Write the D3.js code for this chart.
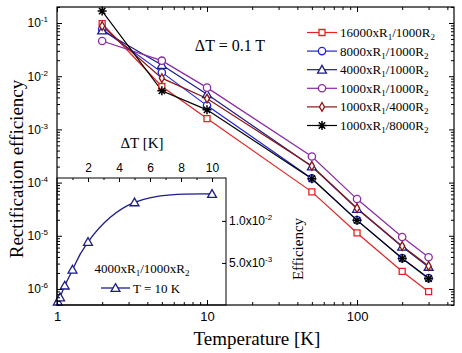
<!DOCTYPE html>
<html>
<head>
<meta charset="utf-8">
<script src="https://cdn.jsdelivr.net/npm/d3@7"></script>
<style>
  body { margin: 0; background: #fff; }
  svg { display: block; }
  .tick text { font-family: "Liberation Sans", Arial, sans-serif; fill: #000; }
  .serif { font-family: "Liberation Serif", "Times New Roman", serif; fill: #000; }
</style>
</head>
<body>
<div id="chart"></div>
<script>
// main plot data: temperature [K] vs rectification efficiency
const temps = [2, 5, 10, 50, 100, 200, 300];
const eff16000_1000 = [0.097, 0.0064, 0.0016, 6.7e-5, 1.13e-5, 2.14e-6, 8.9e-7];
const eff8000_1000  = [0.076, 0.0118, 0.0028, 1.2e-4, 1.97e-5, 3.8e-6, 1.6e-6];
const eff4000_1000  = [0.072, 0.0163, 0.0046, 2.0e-4, 3.2e-5, 6.2e-6, 2.6e-6];
const eff1000_1000  = [0.046, 0.0196, 0.0061, 3.1e-4, 4.9e-5, 9.5e-6, 3.95e-6];
const eff1000_4000  = [0.088, 0.0092, 0.0038, 2.05e-4, 3.3e-5, 6.4e-6, 2.7e-6];
const eff1000_8000  = [0.168, 0.0053, 0.00233, 1.18e-4, 1.95e-5, 3.73e-6, 1.57e-6];

// inset data: ΔT [K] vs efficiency at T = 10 K
const insetDT  = [0.05, 0.2, 0.5, 1, 2, 5, 10];
const insetEff = [0.0004, 0.0009, 0.0023, 0.0042, 0.0075, 0.0122, 0.0132];

const xTickValues = [1, 10, 100];
const yTickValues = [1e-1, 1e-2, 1e-3, 1e-4, 1e-5, 1e-6];
const insetXTicks = [2, 4, 6, 8, 10];
const insetYTicks = [5e-3, 1e-2];
const insetYLabels = [["5.0x10", "-3"], ["1.0x10", "-2"]];

const series = [
  {lo: "16000xR", mid: "/1000R", values: eff16000_1000, color: "#e02424", symbol: "square"},
  {lo: "8000xR",  mid: "/1000R", values: eff8000_1000,  color: "#2323d8", symbol: "circle"},
  {lo: "4000xR",  mid: "/1000R", values: eff4000_1000,  color: "#1c1c86", symbol: "triangle"},
  {lo: "1000xR",  mid: "/1000R", values: eff1000_1000,  color: "#8a2aa6", symbol: "circle"},
  {lo: "1000xR",  mid: "/4000R", values: eff1000_4000,  color: "#8a1616", symbol: "diamond"},
  {lo: "1000xR",  mid: "/8000R", values: eff1000_8000,  color: "#000000", symbol: "star"}
];

const W = 462, H = 353;
const svg = d3.select("#chart").append("svg").attr("width", W).attr("height", H);

// frame of the main plot
const L = 57, R = 454, T = 7, B = 305;

const x = d3.scaleLog().domain([1, 443]).range([L, R]);
const y = d3.scaleLog().domain([5e-7, 0.2]).range([B, T]);

// minor tick values for log axes
function minorTicks(scale) {
  let [a, b] = scale.domain();
  let out = [];
  for (let e = Math.floor(Math.log10(a)); e <= Math.ceil(Math.log10(b)); e++) {
    for (let k = 2; k <= 9; k++) {
      let v = k * Math.pow(10, e);
      if (v >= a && v <= b) out.push(v);
    }
  }
  return out;
}

function drawMarker(g, type, color, cx, cy) {
  if (type === "star") {
    let r = 4.5;
    let p = d3.path();
    for (let i = 0; i < 4; i++) {
      let ang = i * Math.PI / 4;
      p.moveTo(cx - r * Math.cos(ang), cy - r * Math.sin(ang));
      p.lineTo(cx + r * Math.cos(ang), cy + r * Math.sin(ang));
    }
    g.append("path").attr("d", p.toString()).attr("stroke", color).attr("stroke-width", 1.5).attr("fill", "none");
    return;
  }
  let sym = {square: d3.symbolSquare, circle: d3.symbolCircle, triangle: d3.symbolTriangle, diamond: d3.symbolDiamond}[type];
  let size = {square: 36, circle: 42, triangle: 34, diamond: 22}[type];
  let dy = type === "triangle" ? 0.8 : 0;
  g.append("path")
    .attr("d", d3.symbol(sym, size)())
    .attr("transform", `translate(${cx},${cy + dy})`)
    .attr("fill", "#fff")
    .attr("stroke", color)
    .attr("stroke-width", 1.3);
}

// data lines
const line = d3.line().x(d => x(d[0])).y(d => y(d[1]));
const dataG = svg.append("g");
series.forEach(s => {
  let pts = temps.map((t, i) => [t, s.values[i]]);
  dataG.append("path")
    .datum(pts)
    .attr("d", line)
    .attr("fill", "none")
    .attr("stroke", s.color)
    .attr("stroke-width", 1.2);
});
series.forEach(s => {
  temps.forEach((t, i) => drawMarker(dataG, s.symbol, s.color, x(t), y(s.values[i])));
});

// annotation
svg.append("text").attr("class", "serif")
  .attr("x", 230).attr("y", 51)
  .attr("text-anchor", "middle")
  .style("font-size", "16px")
  .text("ΔT = 0.1 T");

// legend
const leg = svg.append("g");
series.forEach((s, i) => {
  let ly = 32.5 + i * 18.6;
  leg.append("line").attr("x1", 307).attr("x2", 337).attr("y1", ly).attr("y2", ly)
    .attr("stroke", s.color).attr("stroke-width", 1.2);
  drawMarker(leg, s.symbol, s.color, 322, ly);
  let t = leg.append("text").attr("class", "serif").attr("x", 340).attr("y", ly + 4.5).style("font-size", "13px");
  t.append("tspan").text(s.lo);
  t.append("tspan").attr("dy", 3).style("font-size", "9px").text("1");
  t.append("tspan").attr("dy", -3).text(s.mid);
  t.append("tspan").attr("dy", 3).style("font-size", "9px").text("2");
});

// ---------- inset ----------
const iL = 57, iR = 226, iT = 178, iB = 305;
const ix = d3.scaleLinear().domain([0, 10.9]).range([iL, iR]);
const iy = d3.scaleLinear().domain([0, 0.0151]).range([iB, iT]);

svg.append("rect").attr("x", iL).attr("y", iT).attr("width", iR - iL).attr("height", iB - iT)
  .attr("fill", "#fff").attr("stroke", "#000").attr("stroke-width", 1);

const insetColor = "#1c1c86";
const ipts = insetDT.map((d, i) => [d, insetEff[i]]);
svg.append("path").datum(ipts)
  .attr("d", d3.line().x(d => ix(d[0])).y(d => iy(d[1])).curve(d3.curveNatural))
  .attr("fill", "none").attr("stroke", insetColor).attr("stroke-width", 1.3);
ipts.forEach(d => drawMarker(svg, "triangle", insetColor, ix(d[0]), iy(d[1])));

// inset top axis (ΔT)
svg.append("g").attr("transform", `translate(0,${iT})`)
  .call(d3.axisTop(ix).tickValues(insetXTicks).tickSize(-4).tickPadding(6).tickFormat(d3.format("d")))
  .call(g => g.select(".domain").remove())
  .call(g => g.selectAll("text").style("font-size", "12px"));
svg.append("g").attr("transform", `translate(0,${iT})`)
  .call(d3.axisTop(ix).tickValues([1, 3, 5, 7, 9]).tickSize(-2).tickFormat(""))
  .call(g => g.select(".domain").remove());

// inset right axis (Efficiency)
svg.append("g").attr("transform", `translate(${iR},0)`)
  .call(d3.axisRight(iy).tickValues(insetYTicks).tickSize(-4).tickPadding(3).tickFormat(""))
  .call(g => g.select(".domain").remove())
  .call(g => g.selectAll(".tick text").each(function(d, i) {
    let t = d3.select(this).style("font-size", "12px");
    t.append("tspan").text(insetYLabels[i][0]);
    t.append("tspan").attr("dy", -5).style("font-size", "8px").text(insetYLabels[i][1]);
  }));

svg.append("text").attr("class", "serif")
  .attr("transform", "translate(142,148)")
  .attr("text-anchor", "middle")
  .style("font-size", "15px")
  .text("ΔT [K]");

svg.append("text").attr("class", "serif")
  .attr("transform", "translate(303,249) rotate(-90)")
  .attr("text-anchor", "middle")
  .style("font-size", "15px")
  .text("Efficiency");

// inset legend
let il = svg.append("text").attr("class", "serif")
  .attr("x", 142).attr("y", 273).attr("text-anchor", "middle").style("font-size", "13px");
il.append("tspan").text("4000xR");
il.append("tspan").attr("dy", 3).style("font-size", "9px").text("1");
il.append("tspan").attr("dy", -3).text("/1000xR");
il.append("tspan").attr("dy", 3).style("font-size", "9px").text("2");
svg.append("line").attr("x1", 101).attr("x2", 130).attr("y1", 288).attr("y2", 288)
  .attr("stroke", insetColor).attr("stroke-width", 1.3);
drawMarker(svg, "triangle", insetColor, 115.5, 288);
svg.append("text").attr("class", "serif")
  .attr("x", 133).attr("y", 292.5).style("font-size", "13px")
  .text("T = 10 K");

// ---------- main axes ----------
svg.append("rect").attr("x", L).attr("y", T).attr("width", R - L).attr("height", B - T)
  .attr("fill", "none").attr("stroke", "#000").attr("stroke-width", 1.2);

// bottom
svg.append("g").attr("transform", `translate(0,${B})`)
  .call(d3.axisBottom(x).tickValues(xTickValues).tickSize(-5).tickPadding(7).tickFormat(d3.format("d")))
  .call(g => g.select(".domain").remove())
  .call(g => g.selectAll("text").style("font-size", "13px"));
svg.append("g").attr("transform", `translate(0,${B})`)
  .call(d3.axisBottom(x).tickValues(minorTicks(x)).tickSize(-3).tickFormat(""))
  .call(g => g.select(".domain").remove());
// top
svg.append("g").attr("transform", `translate(0,${T})`)
  .call(d3.axisTop(x).tickValues(xTickValues).tickSize(-5).tickFormat(""))
  .call(g => g.select(".domain").remove());
svg.append("g").attr("transform", `translate(0,${T})`)
  .call(d3.axisTop(x).tickValues(minorTicks(x)).tickSize(-3).tickFormat(""))
  .call(g => g.select(".domain").remove());
// left
svg.append("g").attr("transform", `translate(${L},0)`)
  .call(d3.axisLeft(y).tickValues(yTickValues).tickSize(-5).tickPadding(9).tickFormat(""))
  .call(g => g.select(".domain").remove())
  .call(g => g.selectAll(".tick text").each(function(d) {
    let t = d3.select(this).style("font-size", "12px");
    t.append("tspan").text("10");
    t.append("tspan").attr("dy", -5).style("font-size", "8px").text(Math.round(Math.log10(d)));
  }));
svg.append("g").attr("transform", `translate(${L},0)`)
  .call(d3.axisLeft(y).tickValues(minorTicks(y)).tickSize(-3).tickFormat(""))
  .call(g => g.select(".domain").remove());
// right
svg.append("g").attr("transform", `translate(${R},0)`)
  .call(d3.axisRight(y).tickValues(yTickValues).tickSize(-5).tickFormat(""))
  .call(g => g.select(".domain").remove());
svg.append("g").attr("transform", `translate(${R},0)`)
  .call(d3.axisRight(y).tickValues(minorTicks(y)).tickSize(-3).tickFormat(""))
  .call(g => g.select(".domain").remove());

// axis titles
svg.append("text").attr("class", "serif")
  .attr("x", 257).attr("y", 345).attr("text-anchor", "middle")
  .style("font-size", "19px")
  .text("Temperature [K]");
svg.append("text").attr("class", "serif")
  .attr("transform", "translate(23,169) rotate(-90)")
  .attr("text-anchor", "middle")
  .style("font-size", "19px")
  .text("Rectification efficiency");
</script>
</body>
</html>
